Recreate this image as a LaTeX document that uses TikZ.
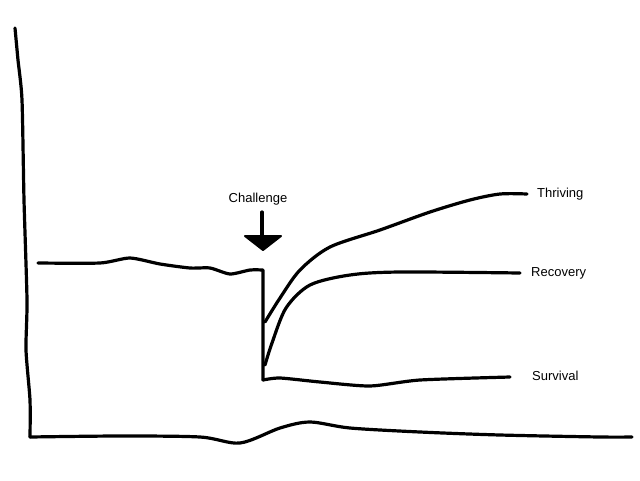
\documentclass[tikz,border=0pt]{standalone}
\usepackage{fontspec}
\setmainfont{Liberation Sans}
\begin{document}
\begin{tikzpicture}[x=1pt,y=-1pt,
  pen/.style={line width=3.2pt,line join=round,line cap=round},
  lbl/.style={font=\fontsize{13}{15}\selectfont,inner sep=0pt}]
\useasboundingbox (0,0) rectangle (640,480);
\draw[pen] plot[smooth,tension=0.4] coordinates {(15,28) (18,60) (22,100) (24,200) (27,300) (26,350) (30,400) (30,437)};
\draw[pen] plot[smooth,tension=0.5] coordinates {(30,437) (120,436) (200,437) (240,443) (280,428) (310,422) (350,428) (420,432) (500,435) (600,437) (632,437)};
\draw[pen] plot[smooth,tension=0.4] coordinates {(38,263) (100,263) (130,258) (160,264) (190,268) (210,268) (230,274) (250,270) (263,270)} -- (263,380);
\draw[pen] plot[smooth,tension=0.4] coordinates {(263,380) (280,378) (320,382) (370,386) (420,380) (510,377)};
\draw[pen] plot[smooth,tension=0.5] coordinates {(265,365) (272,343) (286,308) (310,285) (350,275) (400,272) (520,273)};
\draw[pen] plot[smooth,tension=0.5] coordinates {(265,322) (280,298) (300,270) (330,247) (380,230) (430,212) (470,200) (500,194) (527,194)};
\draw[pen] (262,212) -- (262,236);
\filldraw[pen,line width=2pt] (245,236) -- (281,236) -- (263,250) -- cycle;
\node[lbl] (ch) at (258,199) {Challenge};
\node[lbl,anchor=west] (th) at (537,194) {Thriving};
\node[lbl,anchor=west] (re) at (531,273) {Recovery};
\node[lbl,anchor=west] (su) at (532,376) {Survival};
\end{tikzpicture}
\end{document}
